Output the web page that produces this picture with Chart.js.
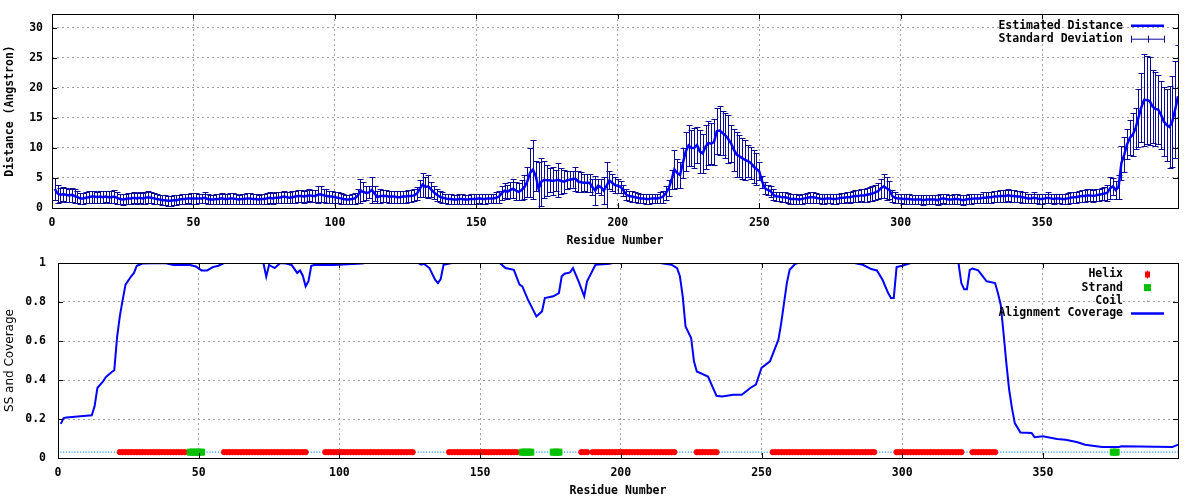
<!DOCTYPE html>
<html>
<head>
<meta charset="utf-8">
<script src="https://cdn.jsdelivr.net/npm/chart.js@4.4.0/dist/chart.umd.min.js"></script>
<style>
    html, body { margin: 0; padding: 0; background: #fff; }
    #wrap { position: relative; width: 1200px; height: 500px; }
    .panel { position: absolute; left: 0; width: 1200px; height: 250px; }
</style>
</head>
<body>
<div id="wrap">
    <div class="panel" style="top:0"><canvas id="distChart"></canvas></div>
    <div class="panel" style="top:250px"><canvas id="ssChart"></canvas></div>
</div>
<script>
// ---- данные: верхняя панель (оценка расстояния и стандартное отклонение, по остаткам 1..398)
const meanDistance = [
    3.2, 2.4, 2.2, 2.3, 2.2, 2.1, 2.2, 2.0, 1.8, 1.6,
    1.6, 1.7, 1.8, 1.9, 1.9, 1.8, 1.9, 1.8, 1.9, 1.8,
    1.8, 1.9, 1.7, 1.5, 1.4, 1.5, 1.6, 1.6, 1.7, 1.6,
    1.7, 1.6, 1.7, 1.8, 1.7, 1.6, 1.5, 1.4, 1.3, 1.3,
    1.2, 1.2, 1.3, 1.3, 1.4, 1.5, 1.5, 1.6, 1.6, 1.6,
    1.6, 1.6, 1.6, 1.7, 1.5, 1.4, 1.4, 1.5, 1.5, 1.6,
    1.5, 1.5, 1.6, 1.6, 1.5, 1.4, 1.5, 1.5, 1.6, 1.6,
    1.5, 1.5, 1.4, 1.5, 1.5, 1.6, 1.7, 1.6, 1.7, 1.7,
    1.8, 1.9, 1.8, 1.7, 1.8, 1.9, 2.0, 2.0, 1.9, 2.0,
    2.1, 2.0, 2.0, 2.2, 2.3, 2.1, 2.0, 1.9, 1.9, 1.8,
    1.7, 1.6, 1.5, 1.4, 1.4, 1.5, 1.6, 2.0, 2.8, 2.7,
    2.5, 2.6, 3.0, 2.4, 1.8, 2.0, 2.0, 2.0, 1.9, 1.9,
    1.9, 1.8, 1.8, 1.9, 1.9, 2.0, 2.0, 2.1, 2.4, 3.2,
    3.9, 3.5, 3.6, 3.1, 2.6, 2.2, 1.9, 1.7, 1.6, 1.5,
    1.5, 1.4, 1.4, 1.5, 1.5, 1.4, 1.4, 1.5, 1.5, 1.5,
    1.6, 1.5, 1.5, 1.6, 1.6, 1.6, 1.7, 1.9, 2.5, 2.9,
    2.7, 3.0, 3.2, 2.9, 2.7, 3.0, 3.5, 4.4, 5.9, 6.4,
    5.3, 3.2, 4.4, 4.7, 4.6, 4.6, 4.5, 4.6, 4.7, 4.5,
    4.4, 4.6, 4.7, 4.8, 4.9, 4.4, 4.3, 4.2, 4.2, 4.2,
    3.5, 2.9, 3.7, 3.5, 2.9, 3.7, 4.6, 4.2, 3.8, 3.7,
    3.5, 2.9, 2.2, 2.0, 1.9, 1.8, 1.7, 1.6, 1.6, 1.5,
    1.5, 1.6, 1.6, 1.6, 1.7, 1.9, 2.5, 3.3, 4.7, 6.4,
    5.8, 5.5, 7.5, 9.4, 10.4, 10.0, 10.0, 10.5, 9.4, 9.1,
    10.2, 10.8, 10.7, 11.0, 12.8, 12.9, 12.5, 12.1, 11.5, 10.8,
    9.7, 8.9, 8.6, 8.3, 8.0, 7.8, 7.5, 6.9, 6.5, 6.1,
    4.4, 3.3, 3.0, 2.8, 2.2, 1.9, 1.9, 1.8, 1.8, 1.7,
    1.5, 1.5, 1.5, 1.4, 1.5, 1.6, 1.7, 1.8, 1.8, 1.7,
    1.6, 1.5, 1.5, 1.6, 1.6, 1.5, 1.5, 1.6, 1.7, 1.7,
    1.8, 1.8, 1.9, 2.0, 2.0, 2.1, 2.1, 2.2, 2.3, 2.4,
    2.6, 2.8, 3.3, 3.6, 3.3, 3.0, 2.0, 1.7, 1.6, 1.6,
    1.5, 1.5, 1.5, 1.4, 1.4, 1.4, 1.4, 1.3, 1.4, 1.4,
    1.4, 1.4, 1.3, 1.5, 1.6, 1.5, 1.4, 1.4, 1.5, 1.5,
    1.4, 1.3, 1.4, 1.5, 1.5, 1.6, 1.6, 1.6, 1.7, 1.7,
    1.8, 1.8, 1.9, 1.9, 2.0, 2.0, 2.0, 2.1, 2.0, 2.0,
    1.9, 1.9, 1.8, 1.7, 1.6, 1.6, 1.7, 1.6, 1.5, 1.5,
    1.6, 1.7, 1.6, 1.5, 1.6, 1.6, 1.5, 1.5, 1.6, 1.7,
    1.8, 1.8, 1.9, 2.0, 2.0, 2.1, 2.1, 2.0, 2.1, 2.2,
    2.3, 2.4, 2.5, 3.3, 3.6, 3.0, 3.5, 7.5, 8.9, 10.6,
    11.7, 12.2, 13.3, 15.0, 16.7, 18.0, 18.0, 17.8, 16.9, 16.5,
    16.4, 15.5, 14.4, 13.8, 13.5, 14.4, 16.4, 18.6
];
const stdDeviation = [
    1.8, 1.5, 1.2, 1.2, 1.2, 1.1, 1.2, 1.1, 1.0, 0.9,
    0.9, 0.9, 1.0, 1.0, 1.0, 0.9, 1.0, 1.0, 0.9, 1.0,
    1.0, 1.1, 1.0, 0.9, 0.9, 0.9, 0.9, 0.9, 0.9, 0.9,
    0.9, 0.9, 1.0, 1.0, 0.9, 0.9, 0.8, 0.8, 0.8, 0.8,
    0.8, 0.8, 0.8, 0.8, 0.8, 0.8, 0.8, 0.8, 0.9, 0.9,
    0.9, 0.8, 0.8, 0.9, 0.8, 0.8, 0.8, 0.8, 0.8, 0.9,
    0.8, 0.8, 0.9, 0.9, 0.8, 0.8, 0.8, 0.8, 0.9, 0.9,
    0.8, 0.8, 0.8, 0.8, 0.8, 0.9, 0.9, 0.9, 0.9, 0.9,
    0.9, 1.0, 0.9, 0.9, 1.0, 1.0, 1.0, 1.0, 1.0, 1.0,
    1.0, 1.0, 1.0, 1.4, 1.3, 1.1, 1.1, 1.0, 1.0, 0.9,
    0.9, 0.9, 0.8, 0.8, 0.8, 0.8, 0.9, 1.2, 2.0, 1.6,
    1.2, 1.0, 2.1, 1.2, 1.0, 1.1, 1.0, 1.0, 1.0, 1.0,
    1.0, 1.0, 1.0, 1.0, 1.0, 1.0, 1.0, 1.0, 1.1, 1.4,
    2.0, 1.6, 1.9, 1.3, 1.1, 1.0, 0.9, 0.9, 0.8, 0.8,
    0.8, 0.8, 0.8, 0.8, 0.8, 0.8, 0.8, 0.8, 0.8, 0.8,
    0.8, 0.8, 0.8, 0.8, 0.8, 0.8, 0.9, 1.0, 1.2, 1.3,
    1.2, 1.4, 1.6, 1.5, 1.4, 1.6, 2.0, 2.5, 4.1, 4.9,
    2.5, 4.5, 4.0, 3.1, 2.6, 2.0, 2.4, 1.8, 2.8, 2.2,
    1.9, 1.5, 1.4, 1.4, 2.0, 1.7, 1.7, 1.4, 1.5, 1.5,
    1.3, 2.4, 1.2, 1.3, 2.2, 4.0, 1.5, 1.4, 1.3, 1.2,
    1.0, 0.9, 0.9, 0.9, 0.9, 0.8, 0.8, 0.8, 0.8, 0.8,
    0.8, 0.8, 0.8, 0.8, 0.9, 1.0, 1.2, 1.3, 1.6, 3.3,
    2.4, 2.2, 2.5, 3.2, 3.4, 3.0, 3.3, 3.0, 3.6, 3.2,
    3.7, 3.7, 3.4, 3.8, 3.8, 4.0, 3.6, 3.7, 4.0, 3.1,
    3.5, 3.7, 3.5, 3.4, 3.4, 2.7, 2.7, 2.8, 2.6, 1.5,
    1.0, 1.0, 0.9, 0.9, 0.9, 0.8, 0.8, 0.8, 0.8, 0.8,
    0.8, 0.8, 0.8, 0.8, 0.8, 0.8, 0.8, 0.9, 0.9, 0.8,
    0.8, 0.8, 0.8, 0.8, 0.8, 0.8, 0.8, 0.8, 0.8, 0.8,
    0.8, 0.9, 0.9, 1.0, 1.0, 1.0, 1.1, 1.2, 1.2, 1.2,
    1.2, 1.3, 1.6, 2.0, 1.9, 1.5, 1.0, 0.9, 0.8, 0.8,
    0.8, 0.8, 0.8, 0.8, 0.8, 0.8, 0.8, 0.8, 0.8, 0.8,
    0.8, 0.8, 0.8, 0.8, 0.8, 0.8, 0.8, 0.8, 0.8, 0.8,
    0.8, 0.8, 0.8, 0.8, 0.8, 0.8, 0.8, 0.8, 0.9, 0.9,
    0.9, 0.9, 0.9, 0.9, 1.0, 1.0, 1.0, 1.0, 1.0, 1.0,
    0.9, 0.9, 0.9, 0.9, 0.8, 0.8, 0.9, 0.8, 0.8, 0.8,
    0.8, 0.9, 0.8, 0.8, 0.8, 0.8, 0.8, 0.8, 0.9, 0.9,
    0.9, 0.9, 0.9, 1.0, 1.0, 1.0, 1.0, 1.0, 1.0, 1.0,
    1.0, 1.1, 1.3, 1.8, 1.4, 1.5, 2.0, 2.8, 2.9, 2.5,
    2.9, 3.6, 3.4, 4.8, 5.7, 7.6, 7.3, 7.3, 6.1, 6.2,
    5.8, 5.6, 5.8, 6.0, 6.8, 7.5, 8.0, 8.6
];
const residues = meanDistance.map((_, i) => i + 1);

// ---- данные: нижняя панель (вторичная структура и покрытие выравнивания)
const helixSegments = [[22, 45], [59, 88], [95, 126], [139, 163], [186, 188], [190, 219],
                       [227, 234], [254, 290], [298, 321], [325, 333]];
const strandSegments = [[47, 51], [165, 168], [176, 178], [375, 376]];
const ssLevel = 0.03;
const lastResidue = 398;

const coverageResidue = [1, 2, 3, 8, 12, 13, 14, 16, 17, 19, 20, 21, 22, 23, 24, 26, 27, 28, 30, 38,
    41, 47, 49, 51, 53, 55, 57, 59, 73, 74, 75, 77, 79, 81, 83, 85, 86, 87, 88, 89,
    90, 91, 98, 108, 109, 128, 129, 130, 132, 134, 135, 136, 137, 140, 157, 159, 162, 164, 165, 167,
    170, 172, 173, 176, 178, 179, 180, 182, 183, 185, 187, 188, 191, 196, 197, 214, 218, 220, 221, 222,
    223, 225, 226, 227, 231, 234, 236, 240, 243, 246, 248, 250, 253, 256, 257, 259, 260, 262, 263, 283,
    286, 289, 291, 293, 295, 296, 297, 298, 300, 303, 320, 321, 322, 323, 324, 325, 327, 330, 333, 334,
    335, 336, 337, 338, 339, 340, 342, 346, 347, 350, 355, 358, 362, 365, 371, 377, 378, 396, 398];
const coverageValue = [0.175, 0.205, 0.208, 0.214, 0.219, 0.265, 0.359, 0.393, 0.415, 0.44, 0.45, 0.62, 0.73, 0.812, 0.889, 0.932, 0.949, 0.986, 0.997, 1.0,
    0.99, 0.99, 0.982, 0.962, 0.962, 0.979, 0.986, 1.0, 1.0, 0.93, 0.99, 0.974, 1.0, 0.997, 0.99, 0.949, 0.962, 0.935, 0.88, 0.906,
    0.986, 0.99, 0.99, 0.997, 1.0, 1.0, 0.991, 0.996, 0.974, 0.914, 0.897, 0.918, 0.991, 1.0, 1.0, 0.974, 0.965, 0.889, 0.88, 0.812,
    0.726, 0.752, 0.82, 0.829, 0.846, 0.932, 0.945, 0.952, 0.974, 0.906, 0.829, 0.906, 0.991, 0.996, 1.0, 1.0, 0.991, 0.974, 0.932, 0.829,
    0.675, 0.615, 0.496, 0.444, 0.418, 0.319, 0.315, 0.324, 0.324, 0.359, 0.376, 0.462, 0.496, 0.607, 0.692, 0.897, 0.965, 0.996, 1.0, 1.0,
    0.991, 0.969, 0.962, 0.914, 0.846, 0.82, 0.82, 0.979, 0.986, 1.0, 1.0, 0.897, 0.866, 0.866, 0.965, 0.972, 0.962, 0.906, 0.897, 0.846,
    0.786, 0.641, 0.487, 0.35, 0.256, 0.179, 0.131, 0.128, 0.107, 0.111, 0.097, 0.094, 0.082, 0.068, 0.056, 0.056, 0.06, 0.056, 0.068];

// ---- оси
const xTicks = [0, 50, 100, 150, 200, 250, 300, 350];
const distTicks = [0, 5, 10, 15, 20, 25, 30];
const ssTicks = [0, 0.2, 0.4, 0.6, 0.8, 1];

const FONT = '"DejaVu Sans Mono", monospace';
const BLUE = '#0000ff';
const NAVY = '#0a0a96';
const GRID = '#a0a0a0';

// Рамка и внутренние засечки, как у gnuplot
const frameTicks = {
    id: 'frameTicks',
    afterDatasetsDraw(chart) {
        const { ctx, chartArea: a, scales: { x, y } } = chart;
        ctx.save();
        ctx.strokeStyle = '#000';
        ctx.lineWidth = 1;
        ctx.beginPath();
        x.ticks.forEach(t => {
            const px = Math.round(x.getPixelForValue(t.value)) + 0.5;
            ctx.moveTo(px, a.bottom); ctx.lineTo(px, a.bottom - 5);
            ctx.moveTo(px, a.top); ctx.lineTo(px, a.top + 5);
        });
        y.ticks.forEach(t => {
            const py = Math.round(y.getPixelForValue(t.value)) + 0.5;
            ctx.moveTo(a.left, py); ctx.lineTo(a.left + 5, py);
            ctx.moveTo(a.right, py); ctx.lineTo(a.right - 5, py);
        });
        ctx.stroke();
        ctx.strokeRect(Math.round(a.left) + 0.5, Math.round(a.top) + 0.5,
                       Math.round(a.right - a.left), Math.round(a.bottom - a.top));
        ctx.restore();
    }
};

// Планки погрешностей (среднее ± стандартное отклонение)
const errorBars = {
    id: 'errorBars',
    beforeDatasetsDraw(chart) {
        const { ctx, chartArea: a, scales: { x, y } } = chart;
        ctx.save();
        ctx.beginPath();
        ctx.rect(a.left, a.top, a.right - a.left, a.bottom - a.top);
        ctx.clip();
        ctx.strokeStyle = NAVY;
        ctx.lineWidth = 1;
        ctx.beginPath();
        meanDistance.forEach((m, i) => {
            const px = Math.round(x.getPixelForValue(residues[i])) + 0.5;
            const top = Math.round(y.getPixelForValue(m + stdDeviation[i])) + 0.5;
            const bot = Math.round(y.getPixelForValue(Math.max(m - stdDeviation[i], 0))) + 0.5;
            ctx.moveTo(px, top); ctx.lineTo(px, bot);
            ctx.moveTo(px - 3, top); ctx.lineTo(px + 3, top);
            ctx.moveTo(px - 3, bot); ctx.lineTo(px + 3, bot);
        });
        ctx.stroke();
        ctx.restore();
    }
};

// Легенда справа сверху: текст выровнен вправо, образец справа от текста
function sideLegend(items) {
    return {
        id: 'sideLegend',
        afterDraw(chart) {
            const ctx = chart.ctx;
            ctx.save();
            ctx.font = 'bold 11.5px ' + FONT;
            ctx.fillStyle = '#000';
            ctx.textAlign = 'right';
            ctx.textBaseline = 'middle';
            items.forEach(it => {
                ctx.fillText(it.label, 1123, it.y);
                it.draw(ctx, 1131, 1164, it.y);
            });
            ctx.restore();
        }
    };
}

function hline(ctx, x0, x1, y, color, w) {
    ctx.strokeStyle = color;
    ctx.lineWidth = w;
    ctx.beginPath();
    ctx.moveTo(x0, y); ctx.lineTo(x1, y);
    ctx.stroke();
}

// убираем автоматические отступы под подписи, чтобы область графика задавалась layout.padding
function noAutoPadding(s) {
    s.paddingTop = 0; s.paddingBottom = 0; s.paddingLeft = 0; s.paddingRight = 0;
}

function baseScales(yTicks, yMax, yTitle, yWidth, yPad, yTitleFont) {
    return {
        x: {
            type: 'linear', min: 0, max: lastResidue,
            afterBuildTicks: s => { s.ticks = xTicks.map(v => ({ value: v })); },
            afterFit: s => { s.height = 42; noAutoPadding(s); },
            grid: { color: GRID, drawTicks: false },
            border: { display: false, dash: [2, 3] },
            ticks: { color: '#000', padding: 8, font: { family: FONT, size: 11.5, weight: 'bold' }, maxRotation: 0,
                     callback: v => String(v) },
            title: { display: true, text: 'Residue Number', color: '#000', padding: { top: 0, bottom: 2 },
                     font: { family: FONT, size: 11.5, weight: 'bold' } }
        },
        y: {
            type: 'linear', min: 0, max: yMax,
            afterBuildTicks: s => { s.ticks = yTicks.map(v => ({ value: v })); },
            afterFit: s => { s.width = yWidth; noAutoPadding(s); },
            grid: { color: GRID, drawTicks: false },
            border: { display: false, dash: [2, 3] },
            ticks: { color: '#000', padding: yPad, font: { family: FONT, size: 11.5, weight: 'bold' },
                     callback: v => String(v) },
            title: { display: true, text: yTitle, color: '#000', padding: { top: 3, bottom: 0 }, font: yTitleFont }
        }
    };
}

// ---- верхний график
new Chart(document.getElementById('distChart'), {
    type: 'scatter',
    data: {
        datasets: [{
            label: 'Estimated Distance',
            data: residues.map((r, i) => ({ x: r, y: meanDistance[i] })),
            showLine: true,
            borderColor: BLUE,
            borderWidth: 2.5,
            pointRadius: 0,
            tension: 0
        }]
    },
    options: {
        responsive: true,
        maintainAspectRatio: false,
        animation: false,
        layout: { padding: { top: 14, right: 22, left: 0, bottom: 0 } },
        plugins: { legend: { display: false }, tooltip: { enabled: false } },
        scales: baseScales(distTicks, 32.3, 'Distance (Angstron)', 52, 9,
                           { family: FONT, size: 11.5, weight: 'bold' })
    },
    plugins: [errorBars, frameTicks, sideLegend([
        { label: 'Estimated Distance', y: 25.7, draw: (ctx, x0, x1, y) => hline(ctx, x0, x1, y, BLUE, 2.5) },
        { label: 'Standard Deviation', y: 38.7, draw: (ctx, x0, x1, y) => {
            hline(ctx, x0, x1, y + 0.5, NAVY, 1);
            ctx.beginPath();
            [x0, (x0 + x1) / 2, x1].forEach(px => {
                ctx.moveTo(Math.round(px) + 0.5, y - 3); ctx.lineTo(Math.round(px) + 0.5, y + 4);
            });
            ctx.stroke();
        } }
    ])]
});

// ---- нижний график
function expandSegments(segs) {
    const out = [];
    segs.forEach(([a, b]) => { for (let r = a; r <= b; r++) out.push({ x: r, y: ssLevel }); });
    return out;
}
const helixPoints = expandSegments(helixSegments);
const strandPoints = expandSegments(strandSegments);
const structured = new Set(helixPoints.concat(strandPoints).map(p => p.x));
const coilPoints = residues.filter(r => !structured.has(r)).map(r => ({ x: r, y: ssLevel }));

new Chart(document.getElementById('ssChart'), {
    type: 'scatter',
    data: {
        datasets: [
            { label: 'Alignment Coverage', data: coverageResidue.map((r, i) => ({ x: r, y: coverageValue[i] })),
              showLine: true, borderColor: BLUE, borderWidth: 2, pointRadius: 0, tension: 0, order: 0 },
            { label: 'Strand', data: strandPoints, pointStyle: 'rect', pointRadius: 4.3,
              backgroundColor: '#00c000', borderColor: '#00c000', borderWidth: 1, order: 1 },
            { label: 'Helix', data: helixPoints, pointStyle: 'circle', pointRadius: 2.8,
              backgroundColor: '#ff0000', borderColor: '#ff0000', borderWidth: 0.6, order: 2 },
            { label: 'Coil', data: coilPoints, pointStyle: 'rect', pointRadius: 0.8,
              backgroundColor: '#1e90ff', borderColor: '#1e90ff', borderWidth: 0, order: 3 }
        ]
    },
    options: {
        responsive: true,
        maintainAspectRatio: false,
        animation: false,
        layout: { padding: { top: 13, right: 22, left: 0, bottom: 0 } },
        plugins: { legend: { display: false }, tooltip: { enabled: false } },
        scales: baseScales(ssTicks, 1, 'SS and Coverage', 58, 12,
                           { family: '"DejaVu Sans", sans-serif', size: 12, weight: 'normal' })
    },
    plugins: [frameTicks, sideLegend([
        { label: 'Helix', y: 24.5, draw: (ctx, x0, x1, y) => {
            ctx.fillStyle = '#ff0000';
            ctx.fillRect(1145, y - 3, 5, 6);
            ctx.fillRect(1147, y - 4, 1, 8);
            ctx.fillStyle = '#000';
        } },
        { label: 'Strand', y: 37.6, draw: (ctx, x0, x1, y) => {
            ctx.fillStyle = '#00c000';
            ctx.fillRect(1144, y - 3.5, 7, 7);
            ctx.fillStyle = '#000';
        } },
        { label: 'Coil', y: 50.6, draw: (ctx, x0, x1, y) => {
            ctx.fillStyle = '#1e90ff';
            ctx.fillRect(1147, y, 1, 1);
            ctx.fillStyle = '#000';
        } },
        { label: 'Alignment Coverage', y: 63.4, draw: (ctx, x0, x1, y) => hline(ctx, x0, x1, y, BLUE, 2.5) }
    ])]
});
</script>
</body>
</html>
